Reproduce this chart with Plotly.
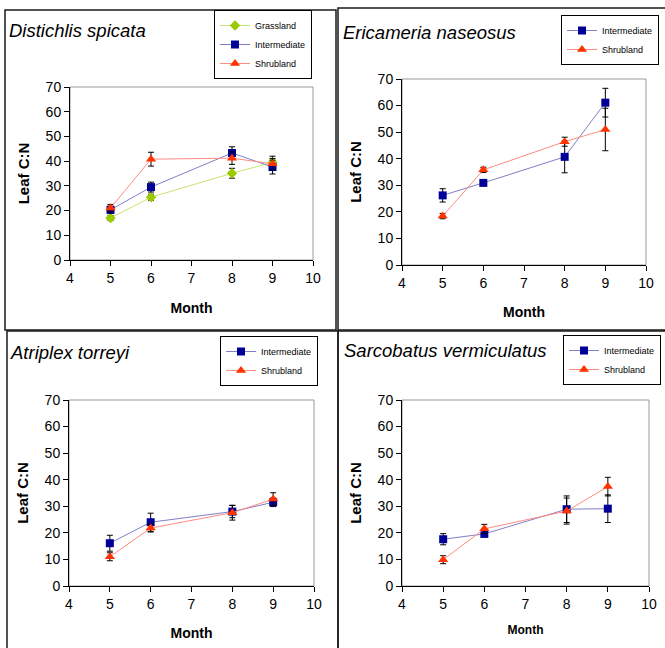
import plotly.graph_objects as go

W, H = 665, 648

months = [5, 6, 8, 9]

# Panel 1: Distichlis spicata
ds_grass = [17.0, 25.4, 35.1, 39.5]
ds_grass_err = [1.0, 1.2, 2.0, 2.5]
ds_inter = [20.3, 29.5, 43.3, 37.6]
ds_inter_err = [1.5, 2.0, 2.5, 2.8]
ds_shrub = [21.0, 40.8, 41.2, 38.9]
ds_shrub_err = [1.5, 2.8, 2.5, 2.2]

# Panel 2: Ericameria naseosus
en_inter = [26.2, 30.9, 40.7, 61.1]
en_inter_err = [2.5, 1.0, 6.0, 5.4]
en_shrub = [18.4, 35.8, 46.4, 51.0]
en_shrub_err = [1.0, 1.0, 1.7, 8.0]

# Panel 3: Atriplex torreyi
at_inter = [16.1, 24.0, 28.0, 31.5]
at_inter_err = [3.0, 3.4, 2.3, 1.6]
at_shrub = [11.0, 21.8, 27.6, 32.7]
at_shrub_err = [1.5, 1.5, 2.8, 2.4]

# Panel 4: Sarcobatus vermiculatus
sv_inter = [17.6, 19.6, 28.9, 29.1]
sv_inter_err = [2.1, 1.0, 5.0, 5.2]
sv_shrub = [9.9, 21.5, 28.2, 37.4]
sv_shrub_err = [1.5, 1.7, 4.9, 3.5]

titles = ["Distichlis spicata", "Ericameria naseosus", "Atriplex torreyi", "Sarcobatus vermiculatus"]
x_ticks = [4, 5, 6, 7, 8, 9, 10]
y_ticks = [0, 10, 20, 30, 40, 50, 60, 70]

NAVY = "#000099"
RED = "#FF3300"
GREEN = "#99CC00"
LINE_NAVY = "#8080C8"
LINE_RED = "#FF8C80"
LINE_GREEN = "#C8E470"

FONT = "Arial, Liberation Sans, sans-serif"

def px(x):
    return x / W

def py(y):
    return 1 - y / H

# plot-area pixel boxes: (left, top, right, bottom)
boxes = [
    (70, 87, 313, 260),
    (402, 79, 646, 265),
    (69, 400, 314, 586),
    (402, 400, 649, 586),
]

fig = go.Figure()

def add_series(idx, name, y, err, color, lcolor, symbol, size, legend):
    xa = "x" if idx == 0 else f"x{idx+1}"
    ya = "y" if idx == 0 else f"y{idx+1}"
    fig.add_trace(go.Scatter(
        x=months, y=y, name=name, mode="lines+markers",
        xaxis=xa, yaxis=ya, legend=legend,
        line=dict(color=lcolor, width=1),
        marker=dict(color=color, symbol=symbol, size=size, line=dict(width=0)),
        error_y=dict(type="data", array=err, visible=True, color="black", thickness=1, width=3),
    ))

add_series(0, "Grassland", ds_grass, ds_grass_err, GREEN, LINE_GREEN, "diamond", 8, "legend")
add_series(0, "Intermediate", ds_inter, ds_inter_err, NAVY, LINE_NAVY, "square", 8, "legend")
add_series(0, "Shrubland", ds_shrub, ds_shrub_err, RED, LINE_RED, "triangle-up", 9, "legend")
add_series(1, "Intermediate", en_inter, en_inter_err, NAVY, LINE_NAVY, "square", 8, "legend2")
add_series(1, "Shrubland", en_shrub, en_shrub_err, RED, LINE_RED, "triangle-up", 9, "legend2")
add_series(2, "Intermediate", at_inter, at_inter_err, NAVY, LINE_NAVY, "square", 8, "legend3")
add_series(2, "Shrubland", at_shrub, at_shrub_err, RED, LINE_RED, "triangle-up", 9, "legend3")
add_series(3, "Intermediate", sv_inter, sv_inter_err, NAVY, LINE_NAVY, "square", 8, "legend4")
add_series(3, "Shrubland", sv_shrub, sv_shrub_err, RED, LINE_RED, "triangle-up", 9, "legend4")

layout = dict(
    width=W, height=H,
    margin=dict(l=0, r=0, t=0, b=0, autoexpand=False),
    paper_bgcolor="white", plot_bgcolor="white",
    font=dict(family=FONT, color="black", size=14),
    showlegend=True,
)

month_sizes = [14, 14, 14, 12]
month_standoff = [18, 17, 17, 14]
for i, (l, t, r, b) in enumerate(boxes):
    sfx = "" if i == 0 else str(i + 1)
    layout["xaxis" + sfx] = dict(
        domain=[px(l), px(r)], anchor="y" + sfx, range=[4, 10],
        tickvals=x_ticks, ticks="outside", ticklen=5, tickcolor="black",
        showline=True, linecolor="black", linewidth=1, showgrid=False, zeroline=False,
        tickfont=dict(size=14), automargin=False,
        title=dict(text="<b>Month</b>", font=dict(size=month_sizes[i]), standoff=month_standoff[i]),
    )
    layout["yaxis" + sfx] = dict(
        domain=[py(b), py(t)], anchor="x" + sfx, range=[0, 70],
        tickvals=y_ticks, ticks="outside", ticklen=5, tickcolor="black",
        showline=True, linecolor="black", linewidth=1, showgrid=False, zeroline=False,
        tickfont=dict(size=14), automargin=False,
        title=dict(text="<b>Leaf C:N</b>", font=dict(size=15), standoff=12),
    )

legend_common = dict(
    bgcolor="white", bordercolor="black", borderwidth=1,
    font=dict(size=9, family=FONT), itemwidth=30, tracegroupgap=0,
    xanchor="left", yanchor="top", traceorder="normal",
)
layout["legend"] = dict(x=px(214), y=py(10), **legend_common)
layout["legend2"] = dict(x=px(561), y=py(15), **legend_common)
layout["legend3"] = dict(x=px(220), y=py(336), **legend_common)
layout["legend4"] = dict(x=px(563), y=py(335), **legend_common)

fig.update_layout(**layout)

shapes = []
# panel frames
frames = [(5, 10, 336, 330), (338, 8, 672, 330), (7, 331, 338, 660), (338, 331, 672, 660)]
for (l, t, r, b) in frames:
    shapes.append(dict(type="rect", xref="paper", yref="paper",
                       x0=px(l), x1=px(r), y0=py(b), y1=py(t),
                       line=dict(color="#1a1a1a", width=1.5), layer="below"))
# grey plot-area borders (top/right)
for i in range(4):
    sfx = "" if i == 0 else str(i + 1)
    shapes.append(dict(type="rect", xref=f"x{sfx} domain", yref=f"y{sfx} domain",
                       x0=0, x1=1, y0=0, y1=1,
                       line=dict(color="#9a9a9a", width=1), layer="below"))
fig.update_layout(shapes=shapes)

title_pos = [(7, 31), (341, 32), (8, 352), (342, 350)]
for (tx, ty), txt in zip(title_pos, titles):
    fig.add_annotation(x=px(tx), y=py(ty), xref="paper", yref="paper",
                       text=f"<i>{txt}</i>", showarrow=False,
                       xanchor="left", yanchor="middle",
                       font=dict(size=18.5, family=FONT, color="black"))

fig.write_html("out.html")
